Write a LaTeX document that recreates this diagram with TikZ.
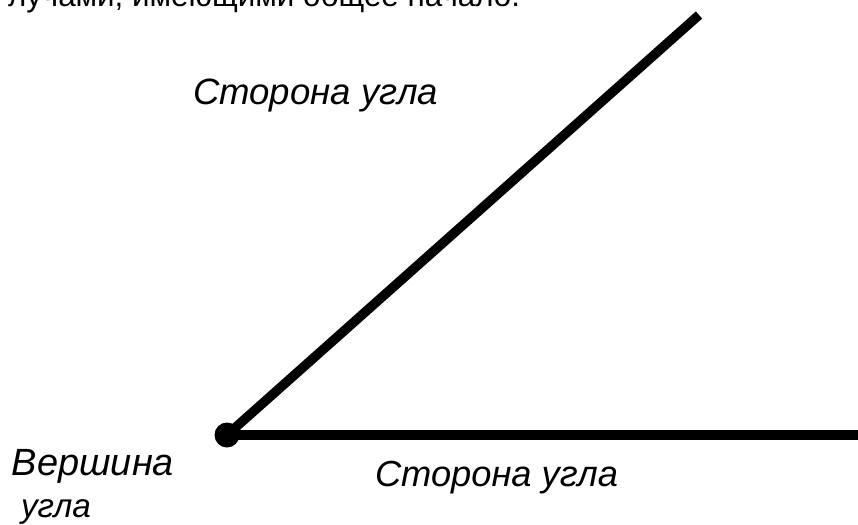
\documentclass[tikz,border=0pt]{standalone}
\usepackage{fontspec}
\setmainfont{Liberation Sans}
\usepackage{graphicx}
\begin{document}
\begin{tikzpicture}[x=1pt,y=-1pt,
  lbl/.style={anchor=base west,inner sep=0pt,outer sep=0pt,font=\fontsize{30}{36}\selectfont\itshape},
  toptxt/.style={anchor=base west,inner sep=0pt,outer sep=0pt,font=\fontsize{30}{36}\selectfont},
  ray/.style={line width=9.5pt,black}]
\useasboundingbox (0,0) rectangle (858,524);
\clip (0,0) rectangle (858,524);
\fill[white] (0,0) rectangle (858,524);
\node[toptxt] (top) at (8,7) {\resizebox{512pt}{!}{лучами, имеющими общее начало.}};
\coordinate (A) at (699,15);
\coordinate (B) at (862,435);
\node[circle,fill=black,inner sep=0pt,minimum size=25pt] (V) at (227,435) {};
\draw[ray] (V.center) -- (A);
\draw[ray] (V.center) -- (B);
\node[lbl] (s1) at (193,105) {\resizebox{245pt}{!}{Сторона угла}};
\node[lbl] (s2) at (375,486) {\resizebox{243pt}{!}{Сторона угла}};
\node[lbl] (v1) at (12,475) {\resizebox{162pt}{!}{Вершина}};
\node[lbl] (v2) at (21,517) {\resizebox{70pt}{!}{угла}};
\end{tikzpicture}
\end{document}
